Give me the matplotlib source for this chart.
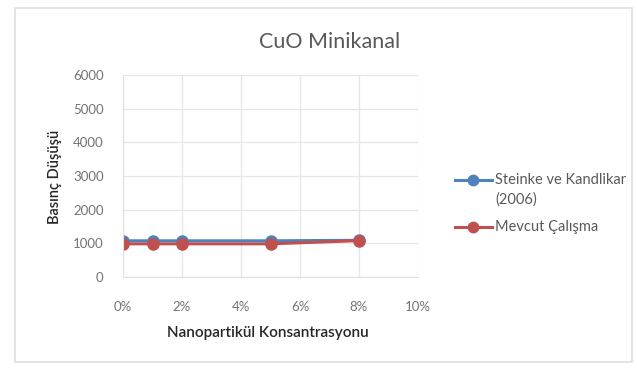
import matplotlib
matplotlib.use('Agg')
import matplotlib.pyplot as plt
from matplotlib.lines import Line2D
from matplotlib.patches import Rectangle
from matplotlib.ticker import PercentFormatter

# data
konsantrasyon = [0, 1, 2, 5, 8]
steinke = [1075, 1075, 1075, 1075, 1090]
mevcut = [985, 985, 985, 985, 1080]

x_ticks = [0, 2, 4, 6, 8, 10]
y_ticks = [0, 1000, 2000, 3000, 4000, 5000, 6000]

series_names = ['Steinke ve Kandlikar\n(2006)', 'Mevcut Çalışma']
series_colors = ['#4F81BD', '#C0504D']

W, H = 637, 372
plt.rcParams['font.family'] = ['Lato', 'DejaVu Sans']

fig = plt.figure(figsize=(W / 100, H / 100), dpi=100)
fig.patch.set_facecolor('white')

# chart-area border
fig.add_artist(Rectangle((15 / W, 1 - 362 / H), (632 - 15) / W, (362 - 8) / H,
                         transform=fig.transFigure, fill=False,
                         edgecolor='#dbe2de', linewidth=1.2))

ax = fig.add_axes([123 / W, 1 - 277 / H, (418 - 123) / W, (277 - 75) / H])

for vals, color in zip([steinke, mevcut], series_colors):
    ax.plot(konsantrasyon, vals, color=color, linewidth=2.2, marker='o',
            markersize=8, markerfacecolor=color, markeredgecolor=color)

ax.set_xlim(0, 10)
ax.set_ylim(0, 6000)
ax.set_xticks(x_ticks)
ax.set_yticks(y_ticks)
ax.xaxis.set_major_formatter(PercentFormatter(100, decimals=0))
ax.grid(True, color='#e6e6e6', linewidth=0.9)
ax.set_axisbelow(True)
for side in ['top', 'right']:
    ax.spines[side].set_visible(False)
for side in ['left', 'bottom']:
    ax.spines[side].set_color('#e0e0e0')
ax.tick_params(length=0, labelsize=9.5, labelcolor='#737373')
ax.tick_params(axis='x', pad=17)
ax.tick_params(axis='y', pad=14)

fig.text(330 / W, 1 - 42 / H, 'CuO Minikanal', ha='center', va='center',
         fontsize=15.5, color='#595959')
fig.text(268 / W, 1 - 333 / H, 'Nanopartikül Konsantrasyonu', ha='center',
         va='center', fontsize=11, fontweight='semibold', color='#262626')
fig.text(55 / W, 1 - 177 / H, 'Basınç Düşüşü', ha='center', va='center',
         rotation=90, fontsize=10.5, fontweight='semibold', color='#262626')

# legend
legend_rows = [180, 227]
for name, color, row in zip(series_names, series_colors, legend_rows):
    y = 1 - row / H
    fig.add_artist(Line2D([455 / W, 492 / W], [y, y], color=color, linewidth=2.2,
                          transform=fig.transFigure))
    fig.add_artist(Line2D([473 / W], [y], color=color, marker='o', markersize=7.5,
                          transform=fig.transFigure))
    lines = name.split('\n')
    for k, part in enumerate(lines):
        fig.text(495 / W, y - k * 20 / H, part, ha='left', va='center',
                 fontsize=10.5, color='#595959')

fig.savefig('out.png', dpi=100)
